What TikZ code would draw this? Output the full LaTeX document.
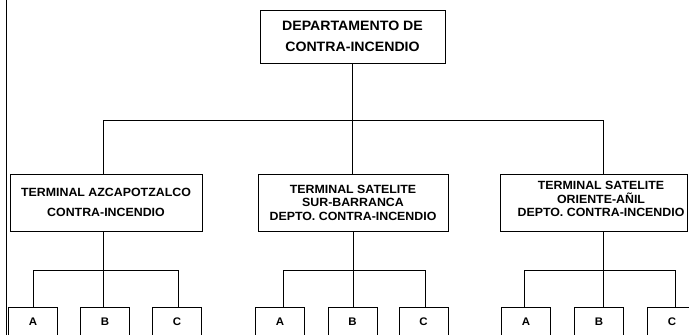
\documentclass[tikz,border=0pt]{standalone}
\usepackage{fontspec}
\setmainfont{Liberation Sans}[FakeStretch=1.04]
\begin{document}
\begin{tikzpicture}[x=1pt,y=-1pt,
  box/.style={draw, line width=0.9pt, inner sep=0pt, align=center},
  big/.style={font=\bfseries\fontsize{13.6}{20.5}\selectfont},
  mid/.style={font=\bfseries\fontsize{11.9}{20}\selectfont},
  tight/.style={font=\bfseries\fontsize{11.9}{13.6}\selectfont},
  leaf/.style={box, minimum width=49pt, minimum height=30pt, font=\bfseries\fontsize{11}{12}\selectfont},
  wire/.style={line width=0.8pt}]
\useasboundingbox (0,0) rectangle (689,335);
\clip (0,0) rectangle (689,335);
\fill[white] (0,0) rectangle (689,335);
% page edge line
\draw[line width=0.8pt] (6.5,0) -- (6.5,335);

% top
\node[box, big, minimum width=185pt, minimum height=53pt] (top) at (352.5,36.5) {DEPARTAMENTO DE\\CONTRA-INCENDIO};

% second level
\node[box, mid, minimum width=192pt, minimum height=57pt] (t1) at (106,202.5) {TERMINAL AZCAPOTZALCO\\CONTRA-INCENDIO};
\node[box, tight, minimum width=190pt, minimum height=57pt] (t2) at (353,202.5) {TERMINAL SATELITE\\SUR-BARRANCA\\DEPTO. CONTRA-INCENDIO};
\node[box, minimum width=187pt, minimum height=57pt] (t3) at (593.5,202.5) {};
\node[tight, align=center, inner sep=0pt] (t3text) at (601,199) {TERMINAL SATELITE\\ORIENTE-AÑIL\\DEPTO. CONTRA-INCENDIO};

% leaves
\node[leaf] (a1) at (33,322) {A};
\node[leaf] (b1) at (105,322) {B};
\node[leaf] (c1) at (177,322) {C};
\node[leaf] (a2) at (280,322) {A};
\node[leaf] (b2) at (352.5,322) {B};
\node[leaf] (c2) at (423.5,322) {C};
\node[leaf] (a3) at (526,322) {A};
\node[leaf] (b3) at (599,322) {B};
\node[leaf] (c3) at (672,322) {C};

% junction coordinates
\coordinate (h0) at (352,120);
\coordinate (h1) at (103,120);
\coordinate (h3) at (603,120);
\coordinate (j1) at (103,270);
\coordinate (j2) at (353,270);
\coordinate (j3) at (603,270);

% top connectors
\draw[wire] (top.south -| h0) -- (h0);
\draw[wire] (h1) -- (h3);
\draw[wire] (h1) -- (t1.north -| h1);
\draw[wire] (h0) -- (t2.north -| h0);
\draw[wire] (h3) -- (t3.north -| h3);

% group 1
\draw[wire] (t1.south -| j1) -- (j1);
\draw[wire] (j1 -| 33,0) -- (j1 -| 178,0);
\draw[wire] (j1 -| 33,0) -- (a1.north -| 33,0);
\draw[wire] (j1) -- (b1.north -| j1);
\draw[wire] (j1 -| 178,0) -- (c1.north -| 178,0);

% group 2
\draw[wire] (t2.south -| j2) -- (j2);
\draw[wire] (j2 -| 283,0) -- (j2 -| 425,0);
\draw[wire] (j2 -| 283,0) -- (a2.north -| 283,0);
\draw[wire] (j2) -- (b2.north -| j2);
\draw[wire] (j2 -| 425,0) -- (c2.north -| 425,0);

% group 3
\draw[wire] (t3.south -| j3) -- (j3);
\draw[wire] (j3 -| 524,0) -- (j3 -| 675,0);
\draw[wire] (j3 -| 524,0) -- (a3.north -| 524,0);
\draw[wire] (j3) -- (b3.north -| j3);
\draw[wire] (j3 -| 675,0) -- (c3.north -| 675,0);
\end{tikzpicture}
\end{document}
